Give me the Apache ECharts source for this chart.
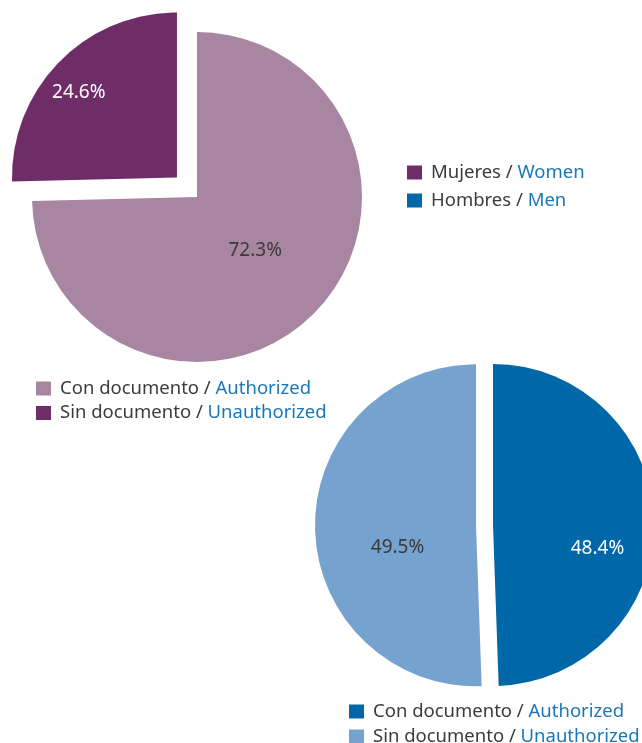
<!DOCTYPE html>
<html>
<head>
<meta charset="utf-8">
<script src="https://cdn.jsdelivr.net/npm/echarts@6/dist/echarts.min.js"></script>
<style>html,body{margin:0;padding:0;background:#fff;}#c{width:642px;height:743px;}</style>
</head>
<body>
<div id="c"></div>
<script>
// Data
const statusCats = ['Con documento / Authorized', 'Sin documento / Unauthorized'];
const womenValues = [72.3, 24.6];   // Con, Sin
const menValues = [48.4, 49.5];     // Con, Sin
const sexCats = ['Mujeres / Women', 'Hombres / Men'];

const C = {
  purpleLight: '#a886a2', purpleDark: '#6f2d68',
  blueDark: '#0068a8', blueLight: '#76a2cf',
  text: '#3b3b3b', en: '#1b77b8'
};
const FONT = '"Noto Sans", sans-serif';
const FS = 19;
const LFS = 18.5;

function legendFmt(name) {
  const label = name.split('|')[1];
  const parts = label.split(' / ');
  return '{es|' + parts[0] + ' / }{en|' + parts[1] + '}';
}
const legendText = {
  fontFamily: FONT, fontSize: LFS, padding: [0, 0, 0, 4],
  rich: {
    es: { color: C.text, fontFamily: FONT, fontSize: LFS },
    en: { color: C.en, fontFamily: FONT, fontSize: LFS }
  }
};
function mkLegend(left, top, gap, names) {
  return {
    left: left, top: top, width: 300, height: 80, orient: 'vertical', padding: 0,
    itemWidth: 15, itemHeight: 14, itemGap: gap, icon: 'rect',
    selectedMode: false, formatter: legendFmt, textStyle: legendText,
    data: names
  };
}

const labelStyle = (color) => ({ show: true, position: 'inside', formatter: '{c}%',
  color: color, fontFamily: FONT, fontSize: FS });

const topOffsets = [[-3, -6], [-37, -25]];
const botOffsets = [[21, 25], [5, 21]];

const option = {
  animation: false,
  legend: [
    mkLegend(407, 163, 9, sexCats.map(n => 'g|' + n)),
    mkLegend(36, 379, 5.5, statusCats.map(n => 'w|' + n)),
    mkLegend(349, 702, 6, statusCats.map(n => 'm|' + n))
  ],
  series: [
    {
      type: 'pie', center: [197, 197], radius: 165, startAngle: 90, clockwise: true,
      selectedMode: 'single', selectedOffset: 28, silent: true,
      labelLine: { show: false },
      labelLayout: function (p) { const o = topOffsets[p.dataIndex]; return { dx: o[0], dy: o[1] }; },
      data: [
        { name: 'w|' + statusCats[0], value: womenValues[0], itemStyle: { color: C.purpleLight }, label: labelStyle(C.text) },
        { name: 'w|' + statusCats[1], value: womenValues[1], selected: true, itemStyle: { color: C.purpleDark }, label: labelStyle('#ffffff') }
      ]
    },
    {
      type: 'pie', center: [493, 525], radius: 161, startAngle: 90, clockwise: true,
      selectedMode: 'single', selectedOffset: 17, silent: true,
      labelLine: { show: false },
      labelLayout: function (p) { const o = botOffsets[p.dataIndex]; return { dx: o[0], dy: o[1] }; },
      data: [
        { name: 'm|' + statusCats[0], value: menValues[0], itemStyle: { color: C.blueDark }, label: labelStyle('#ffffff') },
        { name: 'm|' + statusCats[1], value: menValues[1], selected: true, itemStyle: { color: C.blueLight }, label: labelStyle(C.text) }
      ]
    },
    {
      type: 'pie', center: [0, 0], radius: 0, silent: true, stillShowZeroSum: false,
      label: { show: false }, labelLine: { show: false },
      data: [
        { name: 'g|' + sexCats[0], value: 0, itemStyle: { color: C.purpleDark } },
        { name: 'g|' + sexCats[1], value: 0, itemStyle: { color: C.blueDark } }
      ]
    }
  ]
};
const chart = echarts.init(document.getElementById('c'), null, { renderer: 'canvas' });
chart.setOption(option);
</script>
</body>
</html>
